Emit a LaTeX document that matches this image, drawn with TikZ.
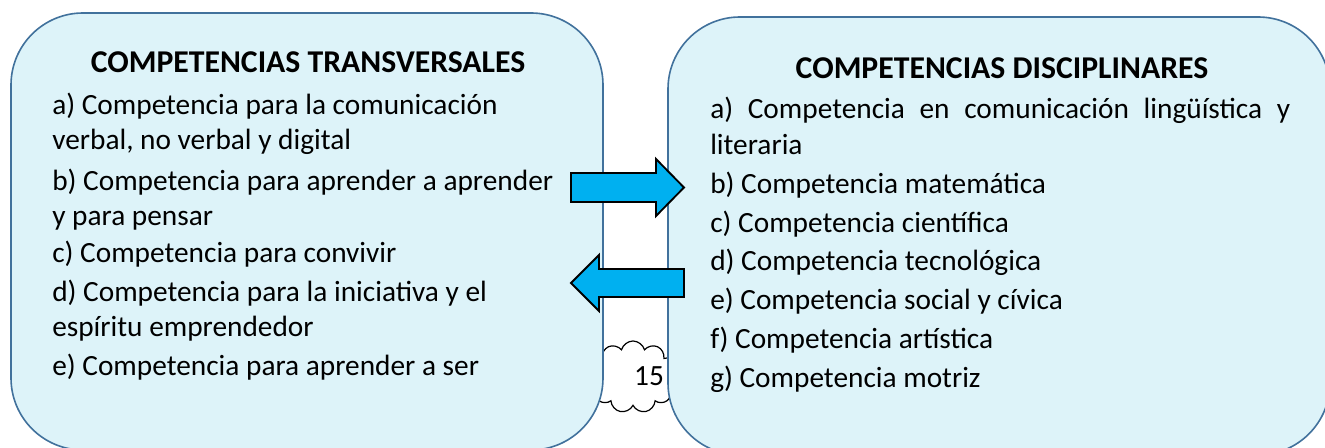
\documentclass[tikz,border=0pt]{standalone}
\usepackage{fontspec}
\setmainfont{Carlito}
\usetikzlibrary{shapes.symbols}
\definecolor{cajafondo}{RGB}{221,243,249}
\definecolor{cajaborde}{RGB}{65,113,156}
\definecolor{flecha}{RGB}{0,176,240}
\tikzset{
  caja/.style={draw=cajaborde,fill=cajafondo,line width=1.2pt,rounded corners=54pt},
  bloque/.style={draw=black,fill=flecha,line width=1.4pt,line join=miter},
  titulo/.style={font=\fontsize{23.8}{28}\selectfont\bfseries,inner sep=0pt,anchor=base},
  item/.style={font=\fontsize{22}{26.4}\selectfont,inner sep=0pt,anchor=base west,align=left},
}
\begin{document}
\begin{tikzpicture}[x=0.75pt,y=0.75pt,yscale=-1,xscale=1]
\useasboundingbox (0,0) rectangle (1325,448);
\clip (0,0) rectangle (1325,448);
% nube con el numero de pagina
\node [cloud,cloud puffs=11,aspect=1.4,draw,line width=0.9pt,fill=white,minimum width=68pt,minimum height=54pt] (nube) at (633,377) {};
% cajas
\draw [caja] (11,13) rectangle (603,450);
\draw [caja] (668,17) rectangle (1330,455);
\node [font=\fontsize{22}{26}\selectfont,inner sep=0pt,anchor=base] (pagina) at (649,386) {15};
% flechas de bloque
\draw [bloque] (571,173) -- (656,173) -- (656,159) -- (684,187.5) -- (656,216) -- (656,202) -- (571,202) -- cycle;
\draw [bloque] (684,269) -- (599,269) -- (599,255) -- (571,283) -- (599,311) -- (599,297) -- (684,297) -- cycle;
% caja izquierda (base = ultima linea)
\node [titulo] (transv) at (308,73) {COMPETENCIAS TRANSVERSALES};
\node [item] (ta) at (52,150) {a) Competencia para la comunicación\\verbal, no verbal y digital};
\node [item] (tb) at (52,226) {b) Competencia para aprender a aprender\\y para pensar};
\node [item] (tc) at (52,263) {c) Competencia para convivir};
\node [item] (td) at (52,337) {d) Competencia para la iniciativa y el\\espíritu emprendedor};
\node [item] (te) at (52,376) {e) Competencia para aprender a ser};
% caja derecha
\node [titulo] (discip) at (1002,79) {COMPETENCIAS DISCIPLINARES};
\node [item,text width=435pt,align=justify,
  execute at begin node={\hyphenpenalty=10000\exhyphenpenalty=10000}] (da) at (710,119) {a) Competencia en comunicación lingüística y literaria};
\node [item] (db) at (710,194) {b) Competencia matemática};
\node [item] (dc) at (710,233) {c) Competencia científica};
\node [item] (dd) at (710,271) {d) Competencia tecnológica};
\node [item] (de) at (710,310) {e) Competencia social y cívica};
\node [item] (df) at (710,349) {f) Competencia artística};
\node [item] (dg) at (710,388) {g) Competencia motriz};
\end{tikzpicture}
\end{document}
